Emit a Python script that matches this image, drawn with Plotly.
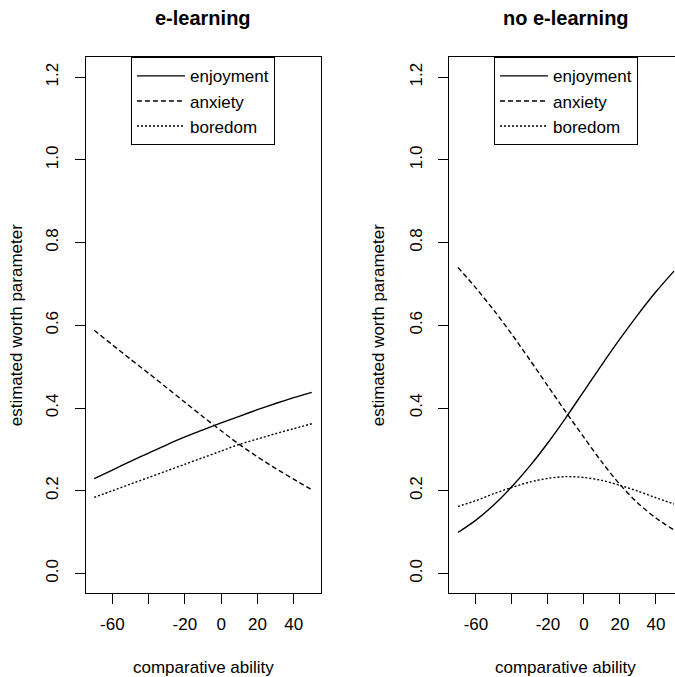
import plotly.graph_objects as go

# ---------------- data ----------------
ability = [-70, -60, -50, -40, -30, -20, -10, 0, 10, 20, 30, 40, 50]

# e-learning
el_enjoyment = [0.229, 0.250, 0.271, 0.291, 0.311, 0.330, 0.347, 0.364, 0.380, 0.396, 0.411, 0.425, 0.438]
el_anxiety   = [0.588, 0.553, 0.518, 0.484, 0.449, 0.414, 0.379, 0.345, 0.312, 0.282, 0.254, 0.228, 0.202]
el_boredom   = [0.184, 0.200, 0.216, 0.232, 0.248, 0.264, 0.280, 0.296, 0.312, 0.325, 0.338, 0.350, 0.362]

# no e-learning
ne_enjoyment = [0.099, 0.129, 0.166, 0.210, 0.260, 0.316, 0.377, 0.441, 0.505, 0.567, 0.626, 0.681, 0.731]
ne_anxiety   = [0.740, 0.690, 0.636, 0.578, 0.516, 0.453, 0.390, 0.329, 0.269, 0.215, 0.170, 0.134, 0.105]
ne_boredom   = [0.162, 0.176, 0.193, 0.208, 0.221, 0.230, 0.234, 0.232, 0.225, 0.213, 0.199, 0.183, 0.168]

series_names = ["enjoyment", "anxiety", "boredom"]
panel_titles = ["e-learning", "no e-learning"]
x_tickvals = [-60, -40, -20, 0, 20, 40]
x_ticktext = ["-60", "", "-20", "0", "20", "40"]
y_tickvals = [0.0, 0.2, 0.4, 0.6, 0.8, 1.0, 1.2]
y_ticktext = ["0.0", "0.2", "0.4", "0.6", "0.8", "1.0", "1.2"]
x_title = "comparative ability"
y_title = "estimated worth parameter"

# ---------------- figure ----------------
PAGE_W, PAGE_H = 675, 677
W, H = PAGE_W, PAGE_H
FONT = "Liberation Sans, Arial, Helvetica, sans-serif"
dashes = ["solid", "5px,3px", "2px,2px"]

fig = go.Figure()
panels = [
    ([el_enjoyment, el_anxiety, el_boredom], "x", "y", "legend"),
    ([ne_enjoyment, ne_anxiety, ne_boredom], "x2", "y2", "legend2"),
]
for vals, xa, ya, lg in panels:
    for name, v, d in zip(series_names, vals, dashes):
        fig.add_trace(go.Scatter(
            x=ability, y=v, name=name, mode="lines",
            line=dict(color="black", width=1.4, dash=d, shape="spline", smoothing=0.8),
            xaxis=xa, yaxis=ya, legend=lg, showlegend=True,
        ))

def px_x(p):
    return p / W

def px_y(p):
    return (H - p) / H

# plot-area pixel geometry (page pixels)
L_x0, L_x1 = 85.5, 320.5
R_x0 = 449.3
top, bot = 57.3, 593.3
yrange = [-0.048, 1.248]

common_x = dict(
    tickmode="array", tickvals=x_tickvals, ticktext=x_ticktext,
    ticks="outside", ticklen=10, tickwidth=1, tickcolor="black",
    showline=True, linecolor="black", linewidth=1, mirror=True,
    showgrid=False, zeroline=False,
    tickfont=dict(family=FONT, size=17, color="black"),
    ticklabelstandoff=5,
)
common_y = dict(
    tickmode="array", tickvals=y_tickvals, ticktext=y_ticktext,
    ticks="outside", ticklen=10, tickwidth=1, tickcolor="black",
    showline=True, linecolor="black", linewidth=1,
    showgrid=False, zeroline=False, tickangle=-90,
    tickfont=dict(family=FONT, size=17, color="black"),
    ticklabelstandoff=10, range=yrange,
)

legend_common = dict(
    bgcolor="white", bordercolor="black", borderwidth=1,
    font=dict(family=FONT, size=17, color="black"),
    xanchor="center", yanchor="top", y=px_y(top),
    itemwidth=48, tracegroupgap=0,
)

annotations = []
for title, cx in zip(panel_titles, [203, 566]):
    annotations.append(dict(text="<b>%s</b>" % title, x=px_x(cx), y=px_y(18),
                            xref="paper", yref="paper", showarrow=False,
                            xanchor="center", yanchor="middle",
                            font=dict(family=FONT, size=20, color="black")))
for cx in [203, 565]:
    annotations.append(dict(text=x_title, x=px_x(cx), y=px_y(667),
                            xref="paper", yref="paper", showarrow=False,
                            xanchor="center", yanchor="middle",
                            font=dict(family=FONT, size=17, color="black")))
for cx in [16, 378]:
    annotations.append(dict(text=y_title, x=px_x(cx), y=px_y((top + bot) / 2),
                            xref="paper", yref="paper", showarrow=False,
                            xanchor="center", yanchor="middle", textangle=-90,
                            font=dict(family=FONT, size=17, color="black")))

fig.update_layout(
    width=W, height=H,
    margin=dict(l=0, r=0, t=0, b=0),
    paper_bgcolor="white", plot_bgcolor="white",
    font=dict(family=FONT, size=17, color="black"),
    xaxis=dict(domain=[px_x(L_x0), px_x(L_x1)], range=[-74.8, 54.8], anchor="y", **common_x),
    yaxis=dict(domain=[px_y(bot), px_y(top)], anchor="x", mirror=True, **common_y),
    xaxis2=dict(domain=[px_x(R_x0), 1.0], range=[-74.8, -74.8 + (PAGE_W - R_x0) / 1.8], anchor="y2", **common_x),
    yaxis2=dict(domain=[px_y(bot), px_y(top)], anchor="x2", mirror=False, **common_y),
    legend=dict(x=px_x(203), **legend_common),
    legend2=dict(x=px_x(566), **legend_common),
    annotations=annotations,
)

fig.write_html(
    "out.html",
    config={"displayModeBar": False},
    post_script="document.body.style.margin='0';document.body.style.overflow='hidden';",
)
